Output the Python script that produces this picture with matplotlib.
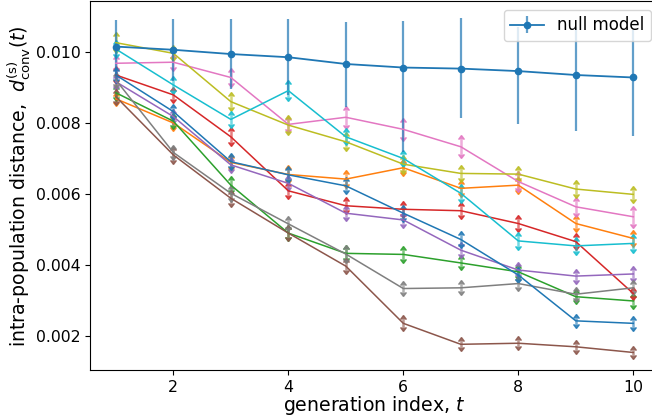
import numpy as np
import matplotlib
matplotlib.use("Agg")
import matplotlib.pyplot as plt
from matplotlib.lines import CARETUPBASE, CARETDOWNBASE

gens = np.arange(1, 11)

null_mean = [0.01015, 0.01006, 0.00994, 0.00985, 0.00966, 0.00956, 0.00953, 0.00946, 0.00935, 0.00928]
null_err_lo = [0.00076, 0.00087, 0.00099, 0.00107, 0.00120, 0.00237, 0.00139, 0.00149, 0.00157, 0.00166]
null_err_hi = [0.00075, 0.00087, 0.00099, 0.00107, 0.00117, 0.00132, 0.00143, 0.00124, 0.00135, 0.00134]

# one run per colour, in tab10 order after the null model (errors in units of 1e-4)
runs = {
    "C1": ([0.00868, 0.00800, 0.00689, 0.00655, 0.00642, 0.00674, 0.00616, 0.00625, 0.00517, 0.00475],
           [0.8, 1.2, 1.2, 1.5, 1.3, 1.3, 1.3, 1.3, 1.2, 1.2]),
    "C2": ([0.00885, 0.00805, 0.00625, 0.00490, 0.00433, 0.00430, 0.00406, 0.00381, 0.00311, 0.00299],
           [1.1, 1.1, 1.5, 1.1, 1.2, 1.2, 1.0, 1.2, 1.0, 1.0]),
    "C3": ([0.00935, 0.00879, 0.00761, 0.00609, 0.00567, 0.00557, 0.00553, 0.00517, 0.00466, 0.00320],
           [1.5, 1.2, 1.5, 1.3, 1.3, 1.3, 1.3, 1.3, 1.2, 0.8]),
    "C4": ([0.00916, 0.00818, 0.00682, 0.00630, 0.00546, 0.00527, 0.00442, 0.00386, 0.00369, 0.00375],
           [1.1, 1.1, 1.1, 1.1, 1.2, 1.1, 1.2, 1.0, 1.0, 1.1]),
    "C5": ([0.00874, 0.00710, 0.00588, 0.00490, 0.00397, 0.00236, 0.00177, 0.00180, 0.00170, 0.00154],
           [1.1, 1.3, 1.2, 1.1, 1.1, 1.1, 0.8, 0.8, 0.8, 0.8]),
    "C6": ([0.00968, 0.00971, 0.00928, 0.00796, 0.00816, 0.00782, 0.00733, 0.00635, 0.00564, 0.00536],
           [1.2, 1.3, 1.5, 1.3, 2.1, 2.1, 2.1, 1.9, 1.7, 1.9]),
    "C7": ([0.00921, 0.00717, 0.00602, 0.00516, 0.00431, 0.00334, 0.00336, 0.00348, 0.00318, 0.00336],
           [1.1, 1.1, 1.3, 1.0, 1.3, 1.0, 1.0, 1.0, 1.0, 1.0]),
    "C8": ([0.01026, 0.00996, 0.00860, 0.00794, 0.00747, 0.00684, 0.00658, 0.00656, 0.00614, 0.00599],
           [1.9, 1.1, 1.5, 1.6, 1.5, 1.5, 1.3, 1.2, 1.3, 1.3]),
    "C9": ([0.01008, 0.00907, 0.00810, 0.00891, 0.00761, 0.00700, 0.00602, 0.00468, 0.00454, 0.00461],
           [1.3, 1.3, 1.3, 1.8, 1.3, 1.3, 1.5, 1.5, 1.3, 1.5]),
    "C0": ([0.00935, 0.00832, 0.00691, 0.00654, 0.00623, 0.00546, 0.00472, 0.00372, 0.00243, 0.00236],
           [1.1, 1.1, 1.2, 1.3, 1.3, 1.3, 1.3, 1.2, 0.9, 0.9]),
}

fig = plt.figure(figsize=(6.52, 4.16), dpi=100)
ax = fig.add_axes([0.138, 0.11, 0.873, 0.8865])

for c, (vals, err) in runs.items():
    v = np.array(vals)
    e = np.array(err) * 1e-4
    _, _, bars = ax.errorbar(gens, v, yerr=e, color=c, lw=1.1, elinewidth=1.8)
    bars[0].set_alpha(0.6)
    ax.plot(gens, v + e, ls="none", marker=CARETUPBASE, ms=4, color=c, alpha=0.85)
    ax.plot(gens, v - e, ls="none", marker=CARETDOWNBASE, ms=4, color=c, alpha=0.85)

_, _, nbars = ax.errorbar(gens, null_mean, yerr=[null_err_lo, null_err_hi], fmt="-o",
                          color="C0", ms=4.5, lw=1.3, elinewidth=1.6, label="null model")
nbars[0].set_alpha(0.7)

ax.set_xlim(0.55, 10.45)
ax.set_ylim(0.00104, 0.01142)
ax.set_xticks([2, 4, 6, 8, 10])
ax.set_yticks([0.002, 0.004, 0.006, 0.008, 0.010])
ax.tick_params(labelsize=11.3)
ax.set_xlabel("generation index, $t$", fontsize=13.6, labelpad=-1)
ax.set_ylabel(r"intra-population distance,  $d^{\rm (s)}_{\rm conv}(t)$", fontsize=13.6, labelpad=2)
ax.legend(loc="upper right", fontsize=12)

fig.savefig("out.png", dpi=100)
